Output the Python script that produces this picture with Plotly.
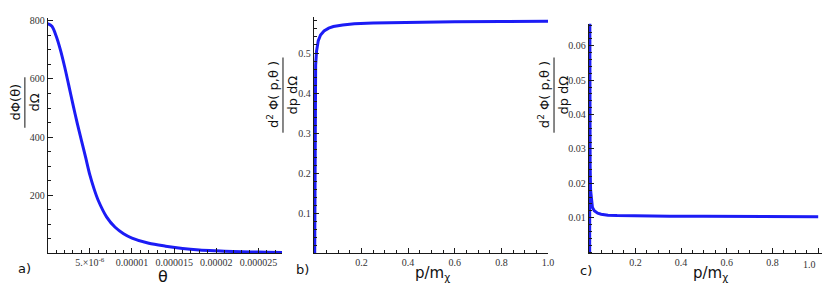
import plotly.graph_objects as go

# ---------------- data ----------------
# panel a: dPhi/dOmega vs theta (theta in micro-rad in the list, converted below)
theta_urad = [0, 0.5, 1, 1.5, 2, 2.5, 3, 3.5, 4, 4.5, 5, 5.5, 6, 7, 8, 9, 10,
              12, 14, 16, 18, 20, 22, 24, 26, 28]
dphi_domega = [790, 781, 748, 701, 643, 578, 512, 448, 389, 330, 270, 222, 182,
               125, 90, 68, 53, 35, 25, 17, 12, 9, 6.5, 5, 4, 3]

# panel b: d2Phi/dp dOmega vs p/m_chi
p_b = [0, 0.0005, 0.001, 0.002, 0.004, 0.008, 0.015, 0.025, 0.04, 0.06, 0.08,
       0.12, 0.17, 0.25, 0.4, 0.6, 0.8, 1.0]
phi_b = [0, 0.25, 0.38, 0.44, 0.47, 0.505, 0.53, 0.545, 0.555, 0.562, 0.566,
         0.570, 0.573, 0.575, 0.577, 0.578, 0.5785, 0.579]

# panel c: d2Phi/dp dOmega vs p/m_chi
p_c = [0, 0.0003, 0.001, 0.002, 0.004, 0.007, 0.012, 0.02, 0.035, 0.05, 0.08,
       0.12, 0.2, 0.35, 0.5, 0.7, 0.85, 1.0]
phi_c = [0, 0.08, 0.04, 0.025, 0.018, 0.015, 0.0130, 0.0120, 0.0113, 0.0110,
         0.0107, 0.0106, 0.0105, 0.0104, 0.0104, 0.0103, 0.0103, 0.0103]

# tick labels
a_xticks = [5e-6, 1e-5, 1.5e-5, 2e-5, 2.5e-5]
a_xtext = ["5.×10<sup>-6</sup>", "0.00001", "0.000015", "0.00002", "0.000025"]
a_yticks = [200, 400, 600, 800]
b_xticks = [0.2, 0.4, 0.6, 0.8, 1.0]
b_xtext = ["0.2", "0.4", "0.6", "0.8", "1.0"]
c_xtext = ["0.2", "0.4", "0.6", "0.8", " "]
b_yticks = [0.1, 0.2, 0.3, 0.4, 0.5]
c_yticks = [0.01, 0.02, 0.03, 0.04, 0.05, 0.06]

# ---------------- figure ----------------
W, H = 830, 285
def X(px): return px / W
def Y(py): return 1 - py / H

BLUE = "rgb(28,28,245)"
AX = "#1a1a1a"
SERIF = "Liberation Serif, Times New Roman, serif"
TICKFONT = dict(family=SERIF, size=10, color="#333333")
LBL = "DejaVu Sans"

theta = [t * 1e-6 for t in theta_urad]

fig = go.Figure()
fig.add_trace(go.Scatter(x=theta, y=dphi_domega, mode="lines",
                         line=dict(color=BLUE, width=3, shape="spline", smoothing=0.8),
                         xaxis="x", yaxis="y"))
fig.add_trace(go.Scatter(x=p_b, y=phi_b, mode="lines",
                         line=dict(color=BLUE, width=3), xaxis="x2", yaxis="y2"))
fig.add_trace(go.Scatter(x=p_c, y=phi_c, mode="lines",
                         line=dict(color=BLUE, width=3), xaxis="x3", yaxis="y3"))

def axis(domain, rng, tickvals, ticktext, minor_dtick, anchor):
    return dict(domain=domain, range=rng, tickmode="array", tickvals=tickvals,
                ticktext=ticktext, showline=True, linecolor=AX, linewidth=1,
                ticks="inside", ticklen=5, tickcolor=AX, tickwidth=1,
                minor=dict(ticks="inside", ticklen=3, tickcolor=AX, tickmode="linear",
                           tick0=0, dtick=minor_dtick, showgrid=False),
                showgrid=False, zeroline=False, tickfont=TICKFONT, anchor=anchor,
                fixedrange=True)

layout = dict(
    width=W, height=H, margin=dict(l=0, r=0, t=0, b=0),
    paper_bgcolor="white", plot_bgcolor="white", showlegend=False,
    xaxis=axis([X(40), X(276)], [0, 2.78e-5], a_xticks, a_xtext, 1e-6, "y"),
    yaxis=axis([Y(245), Y(7)], [0, 810], a_yticks, [str(v) for v in a_yticks], 50, "x"),
    xaxis2=axis([X(308), X(544)], [-0.004, 1.0], b_xticks, b_xtext, 0.05, "y2"),
    yaxis2=axis([Y(245), Y(6)], [0, 0.59], b_yticks, [f"{v:.1f}" for v in b_yticks], 0.02, "x2"),
    xaxis3=axis([X(585), X(820)], [-0.004, 1.017], b_xticks, c_xtext, 0.05, "y3"),
    yaxis3=axis([Y(245), Y(13)], [-0.0004, 0.0664], c_yticks, [f"{v:.2f}" for v in c_yticks], 0.002, "x3"),
)
fig.update_layout(**layout)

ann = []
shapes = []

def text(px, py, s, size, angle=0, family=LBL, color="#111", xanchor="center"):
    ann.append(dict(x=X(px), y=Y(py), xref="paper", yref="paper", text=s,
                    showarrow=False, textangle=angle, xanchor=xanchor,
                    yanchor="middle", borderpad=0,
                    font=dict(family=family, size=size, color=color)))

# panel labels
text(17, 260, "a)", 13)
text(297, 261, "b)", 13)
text(582, 262, "c)", 13)
# x titles
text(156, 268, "θ", 16)
text(428, 265, "p/m<sub>χ</sub>", 15)
text(708, 265, "p/m<sub>χ</sub>", 15)
# last tick label of panel c (pulled in from the edge, as in the reference)
text(807, 256, "1.0", 10, family=SERIF, color="#333333")

# y titles as fractions: numerator left of the bar, denominator right of it
def fraction(line_x, yc, num, den, size, y0, y1):
    text(line_x - 1, yc, num, size, -90, xanchor="right")
    text(line_x + 1, yc, den, size, -90, xanchor="left")
    shapes.append(dict(type="line", xref="paper", yref="paper",
                       x0=X(line_x), x1=X(line_x), y0=Y(y0), y1=Y(y1),
                       line=dict(color="#111", width=1)))

fraction(17, 92, "dΦ(θ)", "dΩ", 13, 67, 118)
fraction(277, 85, "d<sup>2</sup> Φ( p,θ )", "dp dΩ", 13, 47, 123)
fraction(550, 85, "d<sup>2</sup> Φ( p,θ )", "dp dΩ", 13, 47, 123)

fig.update_layout(annotations=ann, shapes=shapes)
fig.write_html("out.html")
